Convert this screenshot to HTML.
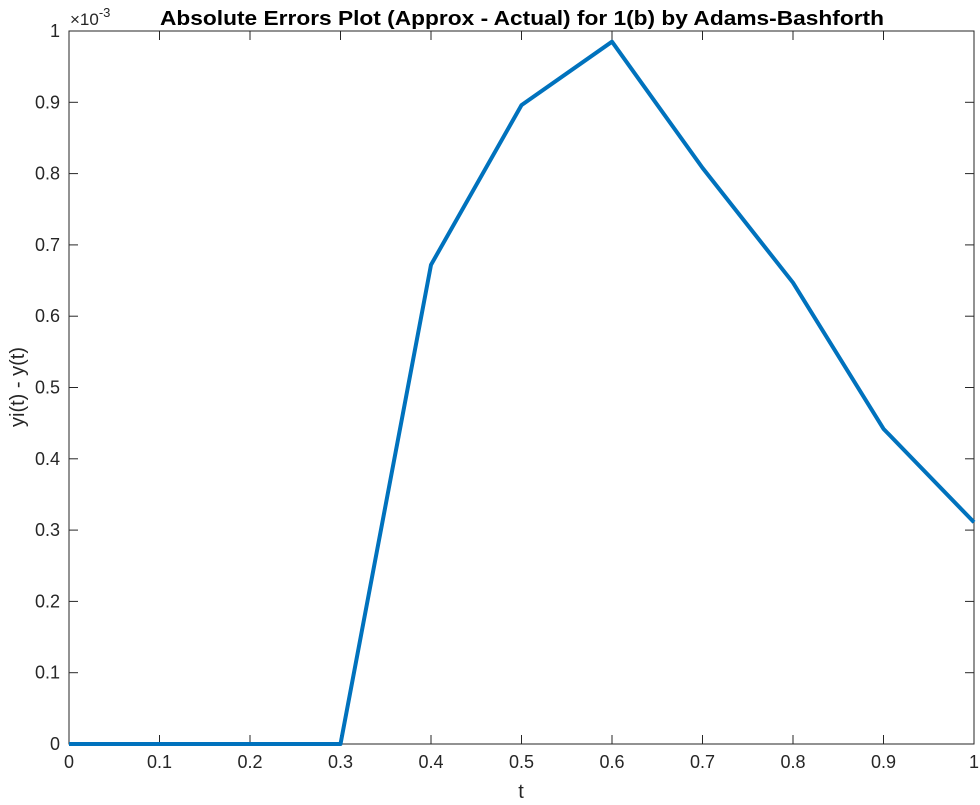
<!DOCTYPE html>
<html><head><meta charset="utf-8"><style>
body{margin:0;background:#fff;}
svg{display:block;font-family:"Liberation Sans",Arial,sans-serif;}
</style></head><body>
<svg id="chart" width="980" height="805"></svg>
<script>
const tValues=[0,0.1,0.2,0.3,0.4,0.5,0.6,0.7,0.8,0.9,1.0];
const errValues=[0,0,0,0,0.672,0.896,0.985,0.808,0.647,0.442,0.311];
const xTicks=[0,0.1,0.2,0.3,0.4,0.5,0.6,0.7,0.8,0.9,1];
const yTicks=[0,0.1,0.2,0.3,0.4,0.5,0.6,0.7,0.8,0.9,1];
const L=69,R=974,T=31,B=744;
const sx=v=>L+(R-L)*v, sy=v=>B-(B-T)*v;
const svg=document.getElementById('chart');
const NS='http://www.w3.org/2000/svg';
function mk(tag,attrs,parent){const e=document.createElementNS(NS,tag);for(const k in attrs)e.setAttribute(k,attrs[k]);(parent||svg).appendChild(e);return e;}
const box=mk('rect',{x:L,y:T,width:R-L,height:B-T,fill:'#fff',stroke:'#262626','stroke-width':1});


xTicks.forEach(v=>{
  const x=sx(v);
  mk('line',{x1:x,y1:B,x2:x,y2:B-9,stroke:'#262626'});
  mk('line',{x1:x,y1:T,x2:x,y2:T+9,stroke:'#262626'});
  const t=mk('text',{x:x,y:B+24,'text-anchor':'middle','font-size':18,fill:'#262626'});
  t.textContent=String(v);
  
  
});
yTicks.forEach(v=>{
  const y=sy(v);
  mk('line',{x1:L,y1:y,x2:L+9,y2:y,stroke:'#262626'});
  mk('line',{x1:R,y1:y,x2:R-9,y2:y,stroke:'#262626'});
  const t=mk('text',{x:L-9,y:y+6,'text-anchor':'end','font-size':18,fill:'#262626'});
  t.textContent=String(v);
  
  
});
const pts=tValues.map((t,i)=>sx(t)+','+sy(errValues[i])).join(' ');
const line=mk('polyline',{points:pts,fill:'none',stroke:'#0072BD','stroke-width':4,'stroke-linejoin':'round'});


const ex=mk('text',{x:70,y:25,'font-size':17,fill:'#262626'});
ex.innerHTML='×10<tspan dy="-8" font-size="13">-3</tspan>';


const title=mk('text',{x:160,y:25,'font-size':20,'font-weight':'bold',fill:'#000',textLength:724,lengthAdjust:'spacingAndGlyphs'});
title.textContent='Absolute Errors Plot (Approx - Actual) for 1(b) by Adams-Bashforth';


const xl=mk('text',{x:521,y:798,'text-anchor':'middle','font-size':20,fill:'#262626'});
xl.textContent='t';


const yl=mk('text',{x:24,y:387,'text-anchor':'middle','font-size':20,fill:'#262626',transform:'rotate(-90 24 387)'});
yl.textContent='yi(t) - y(t)';


</script>
</body></html>
